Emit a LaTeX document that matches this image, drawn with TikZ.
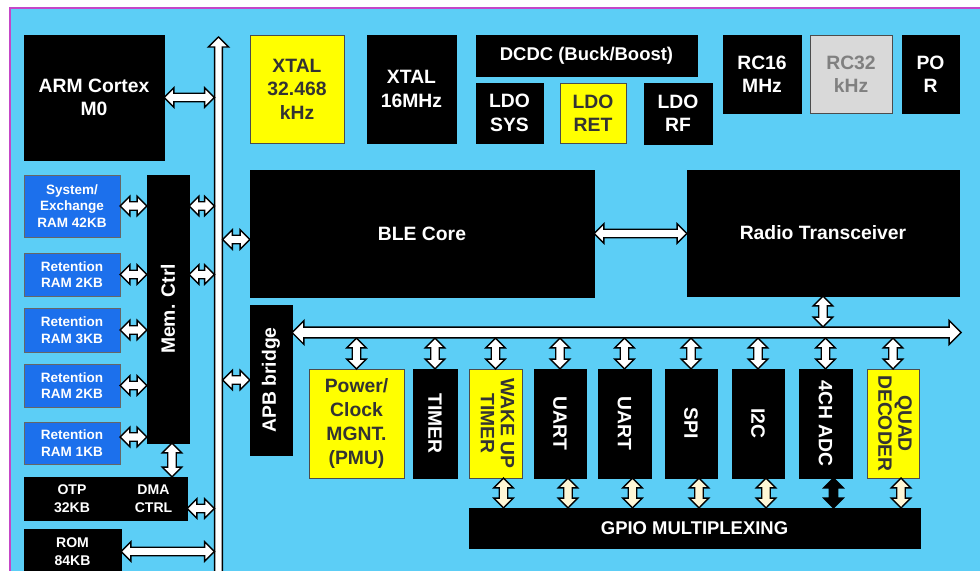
\documentclass[tikz,border=0pt]{standalone}
\usepackage{fontspec}
\setmainfont{Liberation Sans}
\usetikzlibrary{calc, positioning}

\definecolor{bgblue}{RGB}{92,206,246}
\definecolor{ramblue}{RGB}{28,112,236}
\definecolor{cream}{RGB}{255,247,214}
\definecolor{framepink}{RGB}{196,70,200}
\definecolor{chipyellow}{RGB}{255,255,0}

\def\unit{0.02cm}   % one pixel of the reference

% fat white double arrow between two points
\newcommand\link[3][]{%
  \path let \p1=#2, \p2=#3 in \pgfextra{%
      \pgfmathsetmacro\lnklen{veclen(\x2-\x1,\y2-\y1)}%
      \pgfmathsetmacro\lnkang{atan2(\y2-\y1,\x2-\x1)}%
      \global\let\lnklen\lnklen \global\let\lnkang\lnkang}
    (\p1) coordinate (lnkA);
  \begin{scope}[shift={(lnkA)}, rotate=\lnkang]
    \draw[fat, #1] (0pt,0pt) -- (\lnkhead,\lnkwide) -- (\lnkhead,\lnkshaft)
      -- ({\lnklen pt-\lnkhead},\lnkshaft) -- ({\lnklen pt-\lnkhead},\lnkwide)
      -- (\lnklen pt,0pt) -- ({\lnklen pt-\lnkhead},-\lnkwide)
      -- ({\lnklen pt-\lnkhead},-\lnkshaft) -- (\lnkhead,-\lnkshaft)
      -- (\lnkhead,-\lnkwide) -- cycle;
  \end{scope}}

\tikzset{
  cell/.style n args={4}{minimum width={(#3-#1)*\unit}, minimum height={(#4-#2)*\unit},
              at={({(#1+#3)/2},{(#2+#4)/2})}},
  box/.style={inner sep=0pt, outer sep=0pt, align=center, line width=0.5pt,
              font=\fontsize{11}{13.3}\selectfont\bfseries},
  blk/.style={box, fill=black, draw=black, text=white},
  ylw/.style={box, fill=chipyellow, draw=black!70, text=black!80},
  gry/.style={box, fill=black!15, draw=black!70, text=black!50},
  ram/.style={box, fill=ramblue, draw=black!60, text=white,
              font=\fontsize{7.7}{9.5}\selectfont\bfseries},
  mem/.style={font=\fontsize{8}{10.5}\selectfont\bfseries},
  hlen/.store in=\lnkhead, hwid/.store in=\lnkwide, swid/.store in=\lnkshaft,
  fat/.style={draw=black, fill=white, line width=0.8pt, line join=miter,
              hlen=5.6pt, hwid=5.5pt, swid=2.4pt},
  sysbus/.style={hlen=5.7pt, hwid=5.8pt, swid=2.2pt},
  apbbus/.style={hlen=6.8pt, hwid=6.8pt, swid=3.1pt},
}

\begin{document}
\begin{tikzpicture}[x=\unit, y=-\unit]

\useasboundingbox (0,0) rectangle (980,571);

% --- BACKGROUND ---
\fill[white] (0,0) rectangle (980,571);
\fill[bgblue] (10,8) rectangle (980,571);
\draw[framepink, line width=0.6pt] (980,8) -- (10,8) -- (10,571);

% --- 1. TOP ROW (CPU, clocks, power) ---
\node[blk, cell={24}{35}{164}{160}] (arm) {ARM Cortex\\M0};
\node[ylw, cell={250}{35}{344}{143}] (xtal32) {XTAL\\32.468\\kHz};
\node[blk, cell={367}{35}{456}{143}] (xtal16) {XTAL\\16MHz};
\node[blk, cell={476}{35}{697}{76}, font=\fontsize{10.5}{13}\selectfont\bfseries] (dcdc) {DCDC (Buck/Boost)};
\node[blk, cell={476}{83}{543}{143}] (ldosys) {LDO\\SYS};
\node[ylw, cell={560}{83}{626}{143}] (ldoret) {LDO\\RET};
\node[blk, cell={644}{83}{712}{144}] (ldorf) {LDO\\RF};
\node[blk, cell={723}{35}{801}{113}] (rc16) {RC16\\MHz};
\node[gry, cell={810}{35}{892}{113}] (rc32) {RC32\\kHz};
\node[blk, cell={902}{35}{959}{113}] (por) {PO\\R};

% --- 2. CORES ---
\node[blk, cell={250}{170}{594}{297}] (ble) {BLE Core};
\node[blk, cell={687}{170}{959}{296}] (radio) {Radio Transceiver};

% --- 3. MEMORIES ---
\node[blk, cell={147}{175}{189}{443}] (memctrl) {\rotatebox{90}{Mem. Ctrl}};
\node[ram, cell={24}{175}{120}{237}] (ram42) {System/\\Exchange\\RAM 42KB};
\node[ram, cell={24}{253}{120}{296}] (ram2a) {Retention\\RAM 2KB};
\node[ram, cell={24}{308}{120}{352}] (ram3) {Retention\\RAM 3KB};
\node[ram, cell={24}{364}{120}{407}] (ram2b) {Retention\\RAM 2KB};
\node[ram, cell={24}{422}{120}{464}] (ram1) {Retention\\RAM 1KB};
\node[blk, mem, cell={24}{477}{120}{520}] (otp) {OTP\\32KB};
\node[blk, mem, cell={120}{477}{187}{520}] (dma) {DMA\\CTRL};
\node[blk, mem, cell={24}{529}{121}{574}] (rom) {ROM\\84KB};

% --- 4. PERIPHERALS ---
\node[blk, cell={250}{305}{292}{455}] (apb) {\rotatebox{90}{APB bridge}};
\node[ylw, cell={309}{369}{404}{478}, font=\fontsize{11}{13.6}\selectfont\bfseries] (pmu) {Power/\\Clock\\MGNT.\\(PMU)};
\node[blk, cell={413}{369}{457}{478}] (timer) {\rotatebox{-90}{TIMER}};
\node[ylw, cell={469}{369}{522}{478}] (wake) {\rotatebox{-90}{\begin{tabular}{@{}c@{}}WAKE UP\\[-2pt]TIMER\end{tabular}}};
\node[blk, cell={534}{369}{586}{478}] (uart1) {\rotatebox{-90}{UART}};
\node[blk, cell={598}{369}{651}{478}] (uart2) {\rotatebox{-90}{UART}};
\node[blk, cell={665}{369}{717}{478}] (spi) {\rotatebox{-90}{SPI}};
\node[blk, cell={732}{369}{784}{478}] (i2c) {\rotatebox{-90}{I2C}};
\node[blk, cell={799}{369}{852}{478}] (adc) {\rotatebox{-90}{4CH ADC}};
\node[ylw, cell={867}{369}{919}{478}] (quad) {\rotatebox{-90}{\begin{tabular}{@{}c@{}}QUAD\\[-2pt]DECODER\end{tabular}}};
\node[blk, cell={469}{508}{920}{548}, font=\fontsize{10.5}{13}\selectfont\bfseries] (gpio) {GPIO MULTIPLEXING};

% --- 5. SYSTEM BUS ---
\coordinate (bustop) at (218.5,37);
\coordinate (busbot) at (218.5,582);
\coordinate (busL) at (214.5,0);
\coordinate (busR) at (222.5,0);
\link[sysbus]{(bustop)}{(busbot)}

\link{(arm.east)}{(arm.east -| busL)}
\foreach \mem in {ram42,ram2a,ram3,ram2b}{
  \link{(\mem.east)}{(\mem.east -| memctrl.west)}
}
\link{($(ram1.east)+(0,-6)$)}{($(ram1.east -| memctrl.west)+(0,-6)$)}
\link{(memctrl.east |- ram42.east)}{(busL |- ram42.east)}
\link{(memctrl.east |- ram2a.east)}{(busL |- ram2a.east)}
\link{($(memctrl.south)+(4,0)$)}{($(memctrl.south |- dma.north)+(4,0)$)}
\link{($(dma.east)+(0,10)$)}{($(busL |- dma.east)+(0,10)$)}
\link{(rom.east)}{(rom.east -| busL)}
\link{($(busR |- ble.west)+(0,6)$)}{($(ble.west)+(0,6)$)}
\link{(busR |- apb.west)}{(apb.west)}
\link{(ble.east)}{(ble.east -| radio.west)}

% --- 6. APB BUS ---
\coordinate (apbT) at (0,327);
\coordinate (apbB) at (0,338);
\coordinate (apbend) at (961,332.5);
\link[apbbus]{(apb.east |- apbend)}{(apbend)}
\link{(radio.south)}{(radio.south |- apbT)}
\foreach \per in {pmu,timer,wake,uart1,uart2,spi,i2c,adc,quad}{
  \link{(\per.north |- apbB)}{(\per.north)}
}

% pins to GPIO mux
\foreach \per in {wake,uart1,uart2,spi,i2c,quad}{
  \link[fill=cream]{($(\per.south)+(8,0)$)}{($(\per.south |- gpio.north)+(8,0)$)}
}
\link[fill=black]{($(adc.south)+(8,0)$)}{($(adc.south |- gpio.north)+(8,0)$)}

\end{tikzpicture}
\end{document}
